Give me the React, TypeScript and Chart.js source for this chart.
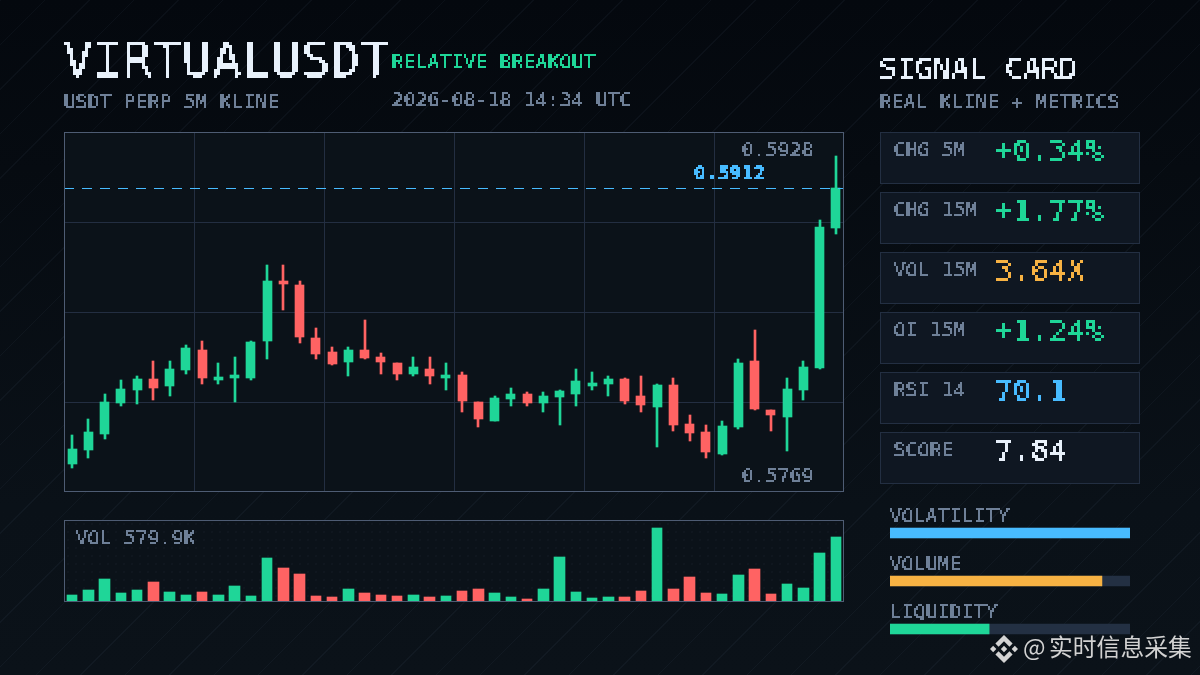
import React, { useEffect, useRef } from "react";
import { Chart, registerables } from "chart.js";

Chart.register(...registerables);

const opens = [0.57709,0.57781,0.57862,0.5802,0.58087,0.58143,0.58107,0.58189,0.58291,0.58138,0.58148,0.58148,0.58337,0.58643,0.58622,0.58352,0.5828,0.58229,0.58291,0.58255,0.58224,0.58168,0.58194,0.58148,0.58163,0.58025,0.57929,0.58041,0.58066,0.5802,0.58051,0.58066,0.58107,0.58117,0.58143,0.58056,0.58,0.58112,0.57913,0.57872,0.5776,0.57898,0.58234,0.57985,0.57949,0.58087,0.58199,0.58913];
const closes = [0.57786,0.57872,0.58025,0.58092,0.58143,0.58097,0.58194,0.58301,0.58148,0.58153,0.58163,0.58331,0.58643,0.58627,0.58357,0.5827,0.58219,0.58291,0.5825,0.58229,0.58168,0.58204,0.58158,0.58163,0.58031,0.57939,0.58046,0.58066,0.5802,0.58056,0.58082,0.58133,0.58122,0.58143,0.58031,0.5801,0.58112,0.57908,0.57867,0.5777,0.57903,0.58224,0.5799,0.57959,0.58092,0.58204,0.58918,0.59115];
const highs = [0.57857,0.57939,0.58066,0.58138,0.58158,0.58234,0.58234,0.58316,0.58337,0.58224,0.58255,0.58337,0.58724,0.58724,0.58643,0.58403,0.58306,0.58306,0.58444,0.58275,0.58224,0.58255,0.58255,0.58224,0.58178,0.58025,0.58056,0.58097,0.58076,0.58076,0.58087,0.58194,0.58178,0.58158,0.58148,0.58158,0.58117,0.58148,0.57959,0.57908,0.57929,0.58245,0.58393,0.57985,0.58148,0.58234,0.58954,0.5928];
const lows = [0.57689,0.5774,0.57837,0.58005,0.58015,0.58036,0.58056,0.58168,0.58117,0.58117,0.58025,0.58138,0.58245,0.58495,0.58326,0.58245,0.58214,0.58158,0.58245,0.58168,0.58138,0.58158,0.58117,0.58087,0.57974,0.57898,0.57929,0.58005,0.58005,0.57974,0.57908,0.58005,0.58087,0.58056,0.58015,0.57974,0.57796,0.57878,0.57827,0.5774,0.57755,0.57888,0.57985,0.57878,0.57775,0.58036,0.58194,0.58882];
const volumesK = [57,102,201,75,102,174,84,57,84,57,138,48,391,300,246,48,39,111,75,57,48,57,39,48,93,111,75,39,21,111,400,84,30,39,39,93,661,111,219,75,66,237,291,66,156,120,436,580];
const labels = opens.map((_, i) => String(i + 1));

const lastPrice = 0.5912;
const highLabel = "0.5928";
const lowLabel = "0.5769";
const volLabel = "VOL 579.9K";

const cardLabels = ["CHG 5M", "CHG 15M", "VOL 15M", "OI 15M", "RSI 14", "SCORE"];
const cardValues = ["+0.34%", "+1.77%", "3.64X", "+1.24%", "70.1", "7.84"];
const GREEN = "#1fd698";
const RED = "#ff6363";
const BLUE = "#48bbff";
const ORANGE = "#f7b243";
const WHITE = "#e8f1fb";
const MUTED = "#6f8098";
const cardColors = [GREEN, GREEN, ORANGE, GREEN, BLUE, WHITE];

const meterNames = ["VOLATILITY", "VOLUME", "LIQUIDITY"];
const meterValues = [100, 88.3, 41.3];
const meterColors = [BLUE, ORANGE, GREEN];

const candleColors = opens.map((o, i) => (closes[i] >= o ? GREEN : RED));

const Y_MIN = 0.575664;
const Y_MAX = 0.594024;

const MONO = '"DejaVu Sans Mono", monospace';

const snapBars = {
  id: "snapBars",
  afterDatasetsUpdate(chart: any) {
    chart.data.datasets.forEach((_: any, i: number) => {
      chart.getDatasetMeta(i).data.forEach((el: any) => {
        const l = Math.round(el.x - el.width / 2);
        const r = Math.round(el.x + el.width / 2);
        el.x = (l + r) / 2;
        el.width = r - l;
        el.y = Math.round(el.y);
        el.base = Math.round(el.base);
        if (el.y === el.base) el.base = el.y + 1;
      });
    });
  },
};

const priceLine = {
  id: "priceLine",
  afterDatasetsDraw(chart: any) {
    const { ctx, chartArea, scales } = chart;
    const y = Math.round(scales.y.getPixelForValue(lastPrice) + 0.5) + 0.5;
    ctx.save();
    ctx.strokeStyle = BLUE;
    ctx.lineWidth = 1;
    ctx.setLineDash([10, 8]);
    ctx.beginPath();
    ctx.moveTo(chartArea.left, y);
    ctx.lineTo(chartArea.right, y);
    ctx.stroke();
    ctx.restore();
  },
};

function T({ x, base, size, color, weight, cell, filterId, spacing, children }: any) {
  const c = cell ?? 2;
  const asc = Math.round(0.846 * size);
  let p = 4;
  while (c === 2 ? (p + asc) % 2 !== 0 : (p + asc - 2) % c !== 0) p += 1;
  const pl = c === 2 ? 5 : 4;
  return (
    <div
      style={{
        position: "absolute",
        left: x - pl,
        top: Math.round(base) - asc - p,
        padding: `${p}px 4px 4px ${pl}px`,
        fontFamily: MONO,
        fontSize: size,
        letterSpacing: spacing ?? (size === 20 ? -0.04 : size === 30 ? -0.06 : 0),
        lineHeight: `${size}px`,
        fontWeight: weight ?? 400,
        color,
        whiteSpace: "pre",
        zIndex: 5,
        filter: `url(#${filterId ?? "px" + c})`,
      }}
    >
      {children}
    </div>
  );
}

function PixelFilter({ id, cell, blur, table }: { id: string; cell: number; blur: number; table: string }) {
  const r = (cell - 1) / 2;
  const odd = cell % 2 === 1;
  return (
    <filter id={id} x="0" y="0" width="100%" height="100%" colorInterpolationFilters="sRGB">
      <feGaussianBlur in="SourceGraphic" stdDeviation={blur} result="soft" />
      <feFlood x={0} y={0} width={1} height={1} floodColor="#fff" />
      <feComposite width={cell} height={cell} />
      <feTile result="grid" />
      <feComposite in="soft" in2="grid" operator="in" />
      {odd ? (
        <feMorphology operator="dilate" radius={r} />
      ) : (
        <>
          <feMorphology operator="dilate" radius={Math.floor(r)} result="m" />
          <feOffset in="m" dx={1} dy={0} result="a" />
          <feOffset in="m" dx={0} dy={1} result="b" />
          <feOffset in="m" dx={1} dy={1} result="c" />
          <feMerge>
            <feMergeNode in="m" />
            <feMergeNode in="a" />
            <feMergeNode in="b" />
            <feMergeNode in="c" />
          </feMerge>
        </>
      )}
      <feComponentTransfer>
        <feFuncA type="discrete" tableValues={table} />
      </feComponentTransfer>
    </filter>
  );
}

const frame = (left: number, top: number, width: number, height: number): any => ({
  position: "absolute",
  left,
  top,
  width,
  height,
  boxSizing: "border-box",
  border: "1px solid #4e5c73",
  pointerEvents: "none",
  zIndex: 3,
});

export default function App() {
  const candleRef = useRef<HTMLCanvasElement>(null);
  const volRef = useRef<HTMLCanvasElement>(null);
  const meterRef = useRef<HTMLCanvasElement>(null);

  useEffect(() => {
    const base = { animation: false as const, responsive: false, devicePixelRatio: 1, plugins: { legend: { display: false }, tooltip: { enabled: false } } };
    const candle = new Chart(candleRef.current!, {
      type: "bar",
      data: {
        labels,
        datasets: [
          { data: opens.map((o, i) => [o, closes[i]]), backgroundColor: candleColors, barThickness: 9, grouped: false, borderWidth: 0 } as any,
          { data: lows.map((l, i) => [l, highs[i]]), backgroundColor: candleColors, barThickness: 2, grouped: false, borderWidth: 0 } as any,
        ],
      },
      options: {
        ...base,
        layout: { padding: 0 },
        scales: {
          x: {
            offset: true,
            border: { display: false },
            grid: { offset: true, drawTicks: false, lineWidth: 1, color: (c: any) => (c.index % 8 === 0 ? "#232e41" : "transparent") },
            ticks: { display: false, autoSkip: false },
          },
          y: {
            min: Y_MIN,
            max: Y_MAX,
            border: { display: false },
            afterBuildTicks: (s: any) => {
              s.ticks = [1, 2, 3].map((k) => ({ value: Y_MIN + (k * (Y_MAX - Y_MIN)) / 4 - 1e-7 }));
            },
            grid: { drawTicks: false, color: "#232e41" },
            ticks: { display: false },
          },
        },
      } as any,
      plugins: [snapBars, priceLine],
    });
    const vol = new Chart(volRef.current!, {
      type: "bar",
      data: {
        labels,
        datasets: [{ data: volumesK, backgroundColor: candleColors, barThickness: 10.5, borderWidth: 0 } as any],
      },
      options: {
        ...base,
        layout: { padding: { bottom: 1 } },
        scales: {
          x: { display: false, offset: true, ticks: { autoSkip: false } },
          y: { display: false, min: 0, max: 730 },
        },
      } as any,
      plugins: [snapBars],
    });
    const meter = new Chart(meterRef.current!, {
      type: "bar",
      data: {
        labels: meterNames,
        datasets: [
          { data: meterValues, backgroundColor: meterColors, barThickness: 10, grouped: false, borderWidth: 0 } as any,
          { data: meterNames.map(() => 100), backgroundColor: "#233043", barThickness: 10, grouped: false, borderWidth: 0 } as any,
        ],
      },
      options: {
        ...base,
        indexAxis: "y",
        layout: { padding: 0 },
        scales: {
          x: { display: false, min: 0, max: 100 },
          y: { display: false, offset: true },
        },
      } as any,
    });
    return () => {
      candle.destroy();
      vol.destroy();
      meter.destroy();
    };
  }, []);

  return (
    <div
      style={{
        position: "fixed",
        left: 0,
        top: 0,
        width: 1200,
        height: 675,
        overflow: "hidden",
        background: "linear-gradient(180deg, #04080e 0%, #060b11 25%, #0a1118 75%, #0b1219 100%)",
      }}
    >
      <svg width="0" height="0" style={{ position: "absolute" }}>
        <PixelFilter id="px2" cell={2} blur={0.45} table="0 1 1" />
        <PixelFilter id="px3" cell={3} blur={0.7} table="0 1 1" />
        <PixelFilter id="pxTitle" cell={3} blur={0.8} table="0 0 1 1" />
      </svg>
      <div
        style={{
          position: "absolute",
          inset: 0,
          background: "repeating-linear-gradient(135deg, rgba(130,160,200,0.05) 0 1px, transparent 1px 31.4px)",
        }}
      />
      <div style={{ position: "absolute", left: 64, top: 132, width: 780, height: 360, background: "#0b1219" }} />
      <canvas ref={candleRef} width={780} height={360} style={{ position: "absolute", left: 64, top: 132, width: 780, height: 360, zIndex: 2 }} />
      <div style={frame(64, 132, 780, 360)} />

      <div
        style={{
          position: "absolute",
          left: 64,
          top: 520,
          width: 780,
          height: 82,
          backgroundColor: "#0b1219",
          backgroundImage: "radial-gradient(rgba(120,150,190,0.08) 0.6px, transparent 0.8px)",
          backgroundSize: "8px 8px",
        }}
      />
      <canvas ref={volRef} width={780} height={82} style={{ position: "absolute", left: 64, top: 520, width: 780, height: 82, zIndex: 2 }} />
      <div style={frame(64, 520, 780, 82)} />

      <T x={63} base={78} size={49.4} cell={3} filterId="pxTitle" color={WHITE}>VIRTUALUSDT</T>
      <T x={391} base={68} size={20} color={GREEN}>RELATIVE BREAKOUT</T>
      <T x={63} base={108} size={20} color={MUTED}>USDT PERP 5M KLINE</T>
      <T x={391} base={106} size={20} color={MUTED}>2026-08-18 14:34 UTC</T>

      <T x={741} base={156} size={20} color={MUTED}>{highLabel}</T>
      <T x={693} base={179} size={20} color={BLUE} weight={700}>{lastPrice.toFixed(4)}</T>
      <T x={741} base={482} size={20} color={MUTED}>{lowLabel}</T>
      <T x={75} base={544} size={20} color={MUTED}>{volLabel}</T>

      <T x={879} base={79} size={30} cell={3} color={WHITE}>SIGNAL CARD</T>
      <T x={879} base={108} size={20} color={MUTED}>REAL KLINE + METRICS</T>

      {cardLabels.map((name, i) => (
        <React.Fragment key={name}>
          <div
            style={{
              position: "absolute",
              left: 880,
              top: 132 + i * 60,
              width: 260,
              height: 52,
              boxSizing: "border-box",
              background: "#0f1722",
              border: "1px solid #232f42",
            }}
          />
          <T x={893} base={156 + i * 60} size={20} color={MUTED}>{name}</T>
          <T x={995} base={161 + i * 60} size={30} cell={3} color={cardColors[i]}>{cardValues[i]}</T>
        </React.Fragment>
      ))}

      <canvas ref={meterRef} width={240} height={144} style={{ position: "absolute", left: 890, top: 509, width: 240, height: 144, zIndex: 2 }} />
      {meterNames.map((name, i) => (
        <T key={name} x={889} base={522 + i * 48} size={20} color={MUTED}>{name}</T>
      ))}

      <svg width="28" height="28" viewBox="0 0 126.61 126.61" style={{ position: "absolute", left: 990, top: 634.5, zIndex: 6 }}>
        <g fill="#d4d4d4">
          <path d="M38.73 53.2L63.3 28.63l24.6 24.6 14.3-14.3L63.3 0 24.43 38.9l14.3 14.3z" />
          <path d="M0 63.31l14.3-14.31 14.31 14.31-14.31 14.3z" />
          <path d="M38.73 73.41L63.31 98l24.59-24.6 14.31 14.29L63.31 126.6 24.43 87.71l14.3-14.3z" />
          <path d="M98 63.31l14.3-14.31 14.31 14.3-14.31 14.32z" />
          <path d="M77.83 63.3L63.31 48.78 52.58 59.51l-1.24 1.23-2.54 2.54 14.51 14.5 14.52-14.52z" />
        </g>
      </svg>
      <div
        style={{
          position: "absolute",
          left: 1023,
          top: 630,
          fontFamily: '"Noto Sans CJK SC", sans-serif',
          fontSize: 23.8,
          lineHeight: "32px",
          color: "#d2d2d2",
          whiteSpace: "pre",
          zIndex: 6,
        }}
      >
        @<span style={{ position: "absolute", left: 26, top: 0 }}>实时信息采集</span>
      </div>
    </div>
  );
}
